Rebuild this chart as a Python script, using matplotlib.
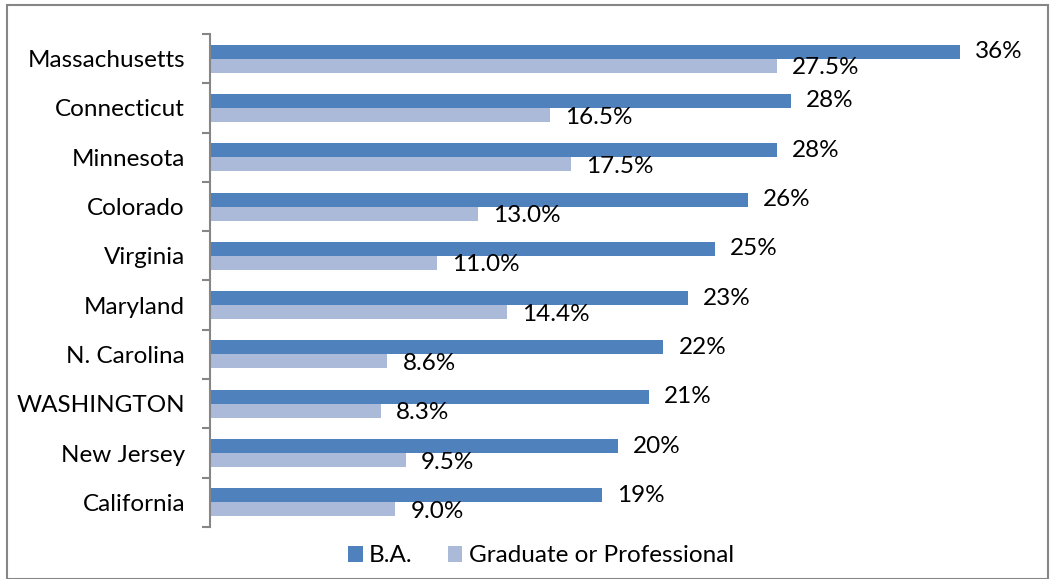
import numpy as np
import matplotlib
matplotlib.use('Agg')
import matplotlib.pyplot as plt
from matplotlib.patches import Rectangle

plt.rcParams['font.family'] = ['Lato', 'DejaVu Sans']

states = ['Massachusetts', 'Connecticut', 'Minnesota', 'Colorado', 'Virginia',
          'Maryland', 'N. Carolina', 'WASHINGTON', 'New Jersey', 'California']
ba = [36.4, 28.2, 27.5, 26.1, 24.5, 23.2, 22.0, 21.3, 19.8, 19.0]
grad = [27.5, 16.5, 17.5, 13.0, 11.0, 14.4, 8.6, 8.3, 9.5, 9.0]

ba_color = '#4F81BD'
grad_color = '#AABAD8'
gray = '#868686'
fs = 17.5

fig = plt.figure(figsize=(10.5, 5.79), dpi=100)
ax = fig.add_axes([0.2, 0.0898, 0.785, 0.8515])

y = np.arange(len(states))
h = 0.284
bars_ba = ax.barh(y - h/2, ba, height=h, color=ba_color, label='B.A.')
bars_gr = ax.barh(y + h/2, grad, height=h, color=grad_color, label='Graduate or Professional')

for b, v in zip(bars_ba, ba):
    ax.annotate('%d%%' % int(v + 0.5), (v, b.get_y() + b.get_height()/2),
                xytext=(11, 0), textcoords='offset points', va='center', ha='left', fontsize=fs)
for b, v in zip(bars_gr, grad):
    ax.annotate('%.1f%%' % v, (v, b.get_y() + b.get_height()/2),
                xytext=(11, -1.5), textcoords='offset points', va='center', ha='left', fontsize=fs)

ax.set_xlim(0, 40)
ax.set_ylim(len(states) - 0.5, -0.5)
ax.set_yticks(y)
ax.set_yticklabels(states, fontsize=fs)
ax.set_yticks(np.arange(-0.5, len(states)), minor=True)
ax.tick_params(axis='y', which='major', length=0, pad=18)
ax.tick_params(axis='y', which='minor', length=6, width=1.5, color=gray)
ax.set_xticks([])
for s in ['top', 'right', 'bottom']:
    ax.spines[s].set_visible(False)
ax.spines['left'].set_color(gray)
ax.spines['left'].set_linewidth(1.5)

fig.legend(loc='center', bbox_to_anchor=(541/1050, 1 - 556/579), ncol=2, frameon=False,
           fontsize=fs, handlelength=0.6, handleheight=0.6, handletextpad=0.25,
           columnspacing=1.45)

fig.patches.append(Rectangle((7/1050, 0), 1041/1050, 1 - 5/579, transform=fig.transFigure,
                             fill=False, edgecolor=gray, linewidth=1.5))

fig.savefig('out.png', dpi=100)
